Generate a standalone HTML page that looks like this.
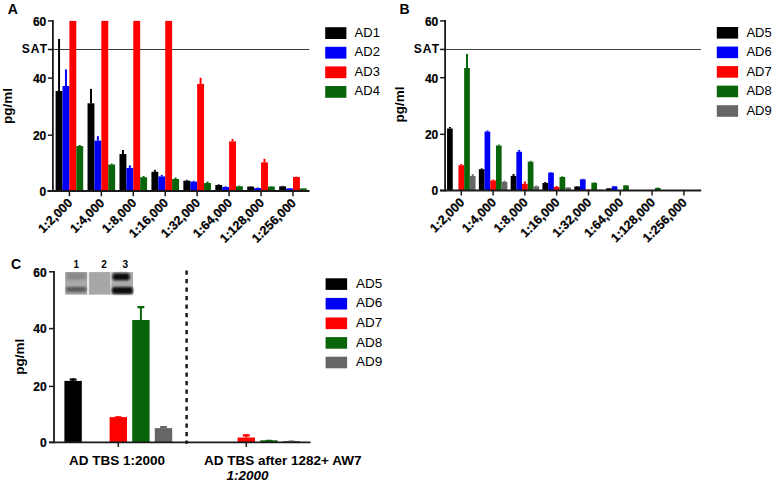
<!DOCTYPE html>
<html><head><meta charset="utf-8"><style>
html,body{margin:0;padding:0;background:#fff;}
body{width:778px;height:485px;overflow:hidden;}
svg{display:block;font-family:"Liberation Sans",sans-serif;}
</style></head><body>
<svg width="778" height="485" viewBox="0 0 778 485">
<rect x="0" y="0" width="778" height="485" fill="#fff"/>
<text x="7.80" y="14.40" font-size="14" font-weight="bold" text-anchor="start"  style="">A</text>
<line x1="48.50" y1="49.50" x2="309.30" y2="49.50" stroke="#3a3a3a" stroke-width="1.1" />
<rect x="55.60" y="91.00" width="6.90" height="100.00" fill="#000000"/>
<line x1="59.05" y1="91.00" x2="59.05" y2="38.90" stroke="#000000" stroke-width="2.0" />
<rect x="62.50" y="86.00" width="6.90" height="105.00" fill="#0000f8"/>
<line x1="65.95" y1="86.00" x2="65.95" y2="69.40" stroke="#0000f8" stroke-width="2.0" />
<rect x="69.40" y="20.90" width="6.90" height="170.10" fill="#ff0000"/>
<rect x="76.30" y="146.00" width="6.90" height="45.00" fill="#0a650a"/>
<line x1="79.75" y1="146.00" x2="79.75" y2="145.00" stroke="#0a650a" stroke-width="2.0" />
<rect x="87.54" y="103.30" width="6.90" height="87.70" fill="#000000"/>
<line x1="90.99" y1="103.30" x2="90.99" y2="88.90" stroke="#000000" stroke-width="2.0" />
<rect x="94.44" y="140.60" width="6.90" height="50.40" fill="#0000f8"/>
<line x1="97.89" y1="140.60" x2="97.89" y2="136.20" stroke="#0000f8" stroke-width="2.0" />
<rect x="101.34" y="20.90" width="6.90" height="170.10" fill="#ff0000"/>
<rect x="108.24" y="164.50" width="6.90" height="26.50" fill="#0a650a"/>
<line x1="111.69" y1="164.50" x2="111.69" y2="163.50" stroke="#0a650a" stroke-width="2.0" />
<rect x="119.48" y="154.00" width="6.90" height="37.00" fill="#000000"/>
<line x1="122.93" y1="154.00" x2="122.93" y2="150.00" stroke="#000000" stroke-width="2.0" />
<rect x="126.38" y="167.90" width="6.90" height="23.10" fill="#0000f8"/>
<line x1="129.83" y1="167.90" x2="129.83" y2="165.30" stroke="#0000f8" stroke-width="2.0" />
<rect x="133.28" y="20.90" width="6.90" height="170.10" fill="#ff0000"/>
<rect x="140.18" y="177.20" width="6.90" height="13.80" fill="#0a650a"/>
<line x1="143.63" y1="177.20" x2="143.63" y2="176.00" stroke="#0a650a" stroke-width="2.0" />
<rect x="151.42" y="171.80" width="6.90" height="19.20" fill="#000000"/>
<line x1="154.87" y1="171.80" x2="154.87" y2="169.80" stroke="#000000" stroke-width="2.0" />
<rect x="158.32" y="176.40" width="6.90" height="14.60" fill="#0000f8"/>
<line x1="161.77" y1="176.40" x2="161.77" y2="174.90" stroke="#0000f8" stroke-width="2.0" />
<rect x="165.22" y="20.90" width="6.90" height="170.10" fill="#ff0000"/>
<rect x="172.12" y="179.00" width="6.90" height="12.00" fill="#0a650a"/>
<line x1="175.57" y1="179.00" x2="175.57" y2="177.50" stroke="#0a650a" stroke-width="2.0" />
<rect x="183.36" y="180.70" width="6.90" height="10.30" fill="#000000"/>
<line x1="186.81" y1="180.70" x2="186.81" y2="179.80" stroke="#000000" stroke-width="2.0" />
<rect x="190.26" y="181.60" width="6.90" height="9.40" fill="#0000f8"/>
<line x1="193.71" y1="181.60" x2="193.71" y2="180.70" stroke="#0000f8" stroke-width="2.0" />
<rect x="197.16" y="83.90" width="6.90" height="107.10" fill="#ff0000"/>
<line x1="200.61" y1="83.90" x2="200.61" y2="77.80" stroke="#ff0000" stroke-width="2.0" />
<rect x="204.06" y="183.00" width="6.90" height="8.00" fill="#0a650a"/>
<line x1="207.51" y1="183.00" x2="207.51" y2="181.60" stroke="#0a650a" stroke-width="2.0" />
<rect x="215.30" y="185.00" width="6.90" height="6.00" fill="#000000"/>
<line x1="218.75" y1="185.00" x2="218.75" y2="184.30" stroke="#000000" stroke-width="2.0" />
<rect x="222.20" y="187.00" width="6.90" height="4.00" fill="#0000f8"/>
<line x1="225.65" y1="187.00" x2="225.65" y2="186.30" stroke="#0000f8" stroke-width="2.0" />
<rect x="229.10" y="141.40" width="6.90" height="49.60" fill="#ff0000"/>
<line x1="232.55" y1="141.40" x2="232.55" y2="139.10" stroke="#ff0000" stroke-width="2.0" />
<rect x="236.00" y="186.30" width="6.90" height="4.70" fill="#0a650a"/>
<line x1="239.45" y1="186.30" x2="239.45" y2="185.50" stroke="#0a650a" stroke-width="2.0" />
<rect x="247.24" y="186.60" width="6.90" height="4.40" fill="#000000"/>
<line x1="250.69" y1="186.60" x2="250.69" y2="186.00" stroke="#000000" stroke-width="2.0" />
<rect x="254.14" y="188.10" width="6.90" height="2.90" fill="#0000f8"/>
<line x1="257.59" y1="188.10" x2="257.59" y2="187.50" stroke="#0000f8" stroke-width="2.0" />
<rect x="261.04" y="162.40" width="6.90" height="28.60" fill="#ff0000"/>
<line x1="264.49" y1="162.40" x2="264.49" y2="158.80" stroke="#ff0000" stroke-width="2.0" />
<rect x="267.94" y="186.60" width="6.90" height="4.40" fill="#0a650a"/>
<line x1="271.39" y1="186.60" x2="271.39" y2="186.00" stroke="#0a650a" stroke-width="2.0" />
<rect x="279.18" y="186.30" width="6.90" height="4.70" fill="#000000"/>
<line x1="282.63" y1="186.30" x2="282.63" y2="185.80" stroke="#000000" stroke-width="2.0" />
<rect x="286.08" y="188.40" width="6.90" height="2.60" fill="#0000f8"/>
<line x1="289.53" y1="188.40" x2="289.53" y2="188.00" stroke="#0000f8" stroke-width="2.0" />
<rect x="292.98" y="177.00" width="6.90" height="14.00" fill="#ff0000"/>
<line x1="296.43" y1="177.00" x2="296.43" y2="176.60" stroke="#ff0000" stroke-width="2.0" />
<rect x="299.88" y="188.40" width="6.90" height="2.60" fill="#0a650a"/>
<line x1="303.33" y1="188.40" x2="303.33" y2="188.00" stroke="#0a650a" stroke-width="2.0" />
<line x1="52.90" y1="20.10" x2="52.90" y2="191.90" stroke="#1a1a1a" stroke-width="1.8" />
<line x1="47.90" y1="20.90" x2="52.90" y2="20.90" stroke="#1a1a1a" stroke-width="1.5" />
<line x1="47.90" y1="49.50" x2="52.90" y2="49.50" stroke="#1a1a1a" stroke-width="1.5" />
<line x1="47.90" y1="78.10" x2="52.90" y2="78.10" stroke="#1a1a1a" stroke-width="1.5" />
<line x1="47.90" y1="135.20" x2="52.90" y2="135.20" stroke="#1a1a1a" stroke-width="1.5" />
<line x1="47.90" y1="191.00" x2="52.90" y2="191.00" stroke="#1a1a1a" stroke-width="1.5" />
<line x1="47.50" y1="191.00" x2="309.50" y2="191.00" stroke="#1a1a1a" stroke-width="1.8" />
<line x1="69.40" y1="191.00" x2="69.40" y2="196.30" stroke="#1a1a1a" stroke-width="1.5" />
<line x1="101.34" y1="191.00" x2="101.34" y2="196.30" stroke="#1a1a1a" stroke-width="1.5" />
<line x1="133.28" y1="191.00" x2="133.28" y2="196.30" stroke="#1a1a1a" stroke-width="1.5" />
<line x1="165.22" y1="191.00" x2="165.22" y2="196.30" stroke="#1a1a1a" stroke-width="1.5" />
<line x1="197.16" y1="191.00" x2="197.16" y2="196.30" stroke="#1a1a1a" stroke-width="1.5" />
<line x1="229.10" y1="191.00" x2="229.10" y2="196.30" stroke="#1a1a1a" stroke-width="1.5" />
<line x1="261.04" y1="191.00" x2="261.04" y2="196.30" stroke="#1a1a1a" stroke-width="1.5" />
<line x1="292.98" y1="191.00" x2="292.98" y2="196.30" stroke="#1a1a1a" stroke-width="1.5" />
<text x="46.30" y="25.72" font-size="12" font-weight="bold" text-anchor="end" stroke="#000" stroke-width="0.2" style="">60</text>
<text x="48.20" y="53.02" font-size="12" font-weight="bold" text-anchor="end"  style="letter-spacing:1.1px">SAT</text>
<text x="46.30" y="82.92" font-size="12" font-weight="bold" text-anchor="end" stroke="#000" stroke-width="0.2" style="">40</text>
<text x="46.30" y="140.02" font-size="12" font-weight="bold" text-anchor="end" stroke="#000" stroke-width="0.2" style="">20</text>
<text x="46.30" y="195.82" font-size="12" font-weight="bold" text-anchor="end" stroke="#000" stroke-width="0.2" style="">0</text>
<text x="73.20" y="203.70" font-size="12.5" font-weight="bold" text-anchor="end" transform="rotate(-45 73.20 203.70)" stroke="#000" stroke-width="0.25" style="">1:2,000</text>
<text x="105.14" y="203.70" font-size="12.5" font-weight="bold" text-anchor="end" transform="rotate(-45 105.14 203.70)" stroke="#000" stroke-width="0.25" style="">1:4,000</text>
<text x="137.08" y="203.70" font-size="12.5" font-weight="bold" text-anchor="end" transform="rotate(-45 137.08 203.70)" stroke="#000" stroke-width="0.25" style="">1:8,000</text>
<text x="169.02" y="203.70" font-size="12.5" font-weight="bold" text-anchor="end" transform="rotate(-45 169.02 203.70)" stroke="#000" stroke-width="0.25" style="">1:16,000</text>
<text x="200.96" y="203.70" font-size="12.5" font-weight="bold" text-anchor="end" transform="rotate(-45 200.96 203.70)" stroke="#000" stroke-width="0.25" style="">1:32,000</text>
<text x="232.90" y="203.70" font-size="12.5" font-weight="bold" text-anchor="end" transform="rotate(-45 232.90 203.70)" stroke="#000" stroke-width="0.25" style="">1:64,000</text>
<text x="264.84" y="203.70" font-size="12.5" font-weight="bold" text-anchor="end" transform="rotate(-45 264.84 203.70)" stroke="#000" stroke-width="0.25" style="">1:128,000</text>
<text x="296.78" y="203.70" font-size="12.5" font-weight="bold" text-anchor="end" transform="rotate(-45 296.78 203.70)" stroke="#000" stroke-width="0.25" style="">1:256,000</text>
<text x="12.30" y="106.00" font-size="13.5" font-weight="bold" text-anchor="middle" transform="rotate(-90 12.3 106.0)" style="">pg/ml</text>
<rect x="325.20" y="27.20" width="21.20" height="11.80" fill="#000000"/>
<text x="354.60" y="36.60" font-size="13" font-weight="normal" text-anchor="start"  style="">AD1</text>
<rect x="325.20" y="46.80" width="21.20" height="11.80" fill="#0000f8"/>
<text x="354.60" y="56.20" font-size="13" font-weight="normal" text-anchor="start"  style="">AD2</text>
<rect x="325.20" y="66.40" width="21.20" height="11.80" fill="#ff0000"/>
<text x="354.60" y="75.80" font-size="13" font-weight="normal" text-anchor="start"  style="">AD3</text>
<rect x="325.20" y="86.00" width="21.20" height="11.80" fill="#0a650a"/>
<text x="354.60" y="95.40" font-size="13" font-weight="normal" text-anchor="start"  style="">AD4</text>
<text x="399.60" y="14.40" font-size="14" font-weight="bold" text-anchor="start"  style="">B</text>
<line x1="440.00" y1="49.50" x2="701.00" y2="49.50" stroke="#444444" stroke-width="1.0" />
<rect x="447.05" y="128.50" width="5.70" height="62.00" fill="#000000"/>
<line x1="449.90" y1="128.50" x2="449.90" y2="127.00" stroke="#000000" stroke-width="2.0" />
<rect x="458.45" y="165.20" width="5.70" height="25.30" fill="#ff0000"/>
<line x1="461.30" y1="165.20" x2="461.30" y2="164.00" stroke="#ff0000" stroke-width="2.0" />
<rect x="464.15" y="68.00" width="5.70" height="122.50" fill="#0a650a"/>
<line x1="467.00" y1="68.00" x2="467.00" y2="53.90" stroke="#0a650a" stroke-width="2.0" />
<rect x="469.85" y="176.00" width="5.70" height="14.50" fill="#666666"/>
<line x1="472.70" y1="176.00" x2="472.70" y2="174.20" stroke="#666666" stroke-width="2.0" />
<rect x="478.85" y="169.20" width="5.70" height="21.30" fill="#000000"/>
<line x1="481.70" y1="169.20" x2="481.70" y2="168.30" stroke="#000000" stroke-width="2.0" />
<rect x="484.55" y="131.60" width="5.70" height="58.90" fill="#0000f8"/>
<line x1="487.40" y1="131.60" x2="487.40" y2="130.50" stroke="#0000f8" stroke-width="2.0" />
<rect x="490.25" y="180.40" width="5.70" height="10.10" fill="#ff0000"/>
<line x1="493.10" y1="180.40" x2="493.10" y2="179.50" stroke="#ff0000" stroke-width="2.0" />
<rect x="495.95" y="145.50" width="5.70" height="45.00" fill="#0a650a"/>
<line x1="498.80" y1="145.50" x2="498.80" y2="144.50" stroke="#0a650a" stroke-width="2.0" />
<rect x="501.65" y="181.90" width="5.70" height="8.60" fill="#666666"/>
<line x1="504.50" y1="181.90" x2="504.50" y2="180.70" stroke="#666666" stroke-width="2.0" />
<rect x="510.65" y="175.90" width="5.70" height="14.60" fill="#000000"/>
<line x1="513.50" y1="175.90" x2="513.50" y2="174.00" stroke="#000000" stroke-width="2.0" />
<rect x="516.35" y="151.80" width="5.70" height="38.70" fill="#0000f8"/>
<line x1="519.20" y1="151.80" x2="519.20" y2="149.90" stroke="#0000f8" stroke-width="2.0" />
<rect x="522.05" y="183.90" width="5.70" height="6.60" fill="#ff0000"/>
<line x1="524.90" y1="183.90" x2="524.90" y2="181.50" stroke="#ff0000" stroke-width="2.0" />
<rect x="527.75" y="161.70" width="5.70" height="28.80" fill="#0a650a"/>
<line x1="530.60" y1="161.70" x2="530.60" y2="160.80" stroke="#0a650a" stroke-width="2.0" />
<rect x="533.45" y="186.40" width="5.70" height="4.10" fill="#666666"/>
<line x1="536.30" y1="186.40" x2="536.30" y2="185.50" stroke="#666666" stroke-width="2.0" />
<rect x="542.45" y="183.00" width="5.70" height="7.50" fill="#000000"/>
<line x1="545.30" y1="183.00" x2="545.30" y2="182.00" stroke="#000000" stroke-width="2.0" />
<rect x="548.15" y="172.60" width="5.70" height="17.90" fill="#0000f8"/>
<line x1="551.00" y1="172.60" x2="551.00" y2="172.00" stroke="#0000f8" stroke-width="2.0" />
<rect x="553.85" y="187.00" width="5.70" height="3.50" fill="#ff0000"/>
<line x1="556.70" y1="187.00" x2="556.70" y2="186.00" stroke="#ff0000" stroke-width="2.0" />
<rect x="559.55" y="177.00" width="5.70" height="13.50" fill="#0a650a"/>
<line x1="562.40" y1="177.00" x2="562.40" y2="176.30" stroke="#0a650a" stroke-width="2.0" />
<rect x="565.25" y="187.60" width="5.70" height="2.90" fill="#666666"/>
<line x1="568.10" y1="187.60" x2="568.10" y2="187.00" stroke="#666666" stroke-width="2.0" />
<rect x="574.25" y="186.50" width="5.70" height="4.00" fill="#000000"/>
<line x1="577.10" y1="186.50" x2="577.10" y2="186.00" stroke="#000000" stroke-width="2.0" />
<rect x="579.95" y="179.30" width="5.70" height="11.20" fill="#0000f8"/>
<line x1="582.80" y1="179.30" x2="582.80" y2="178.80" stroke="#0000f8" stroke-width="2.0" />
<rect x="585.65" y="189.60" width="5.70" height="0.90" fill="#ff0000"/>
<line x1="588.50" y1="189.60" x2="588.50" y2="189.00" stroke="#ff0000" stroke-width="2.0" />
<rect x="591.35" y="182.80" width="5.70" height="7.70" fill="#0a650a"/>
<line x1="594.20" y1="182.80" x2="594.20" y2="182.30" stroke="#0a650a" stroke-width="2.0" />
<rect x="597.05" y="189.80" width="5.70" height="0.70" fill="#666666"/>
<line x1="599.90" y1="189.80" x2="599.90" y2="189.50" stroke="#666666" stroke-width="2.0" />
<rect x="606.05" y="188.30" width="5.70" height="2.20" fill="#000000"/>
<line x1="608.90" y1="188.30" x2="608.90" y2="188.00" stroke="#000000" stroke-width="2.0" />
<rect x="611.75" y="186.30" width="5.70" height="4.20" fill="#0000f8"/>
<line x1="614.60" y1="186.30" x2="614.60" y2="186.00" stroke="#0000f8" stroke-width="2.0" />
<rect x="623.15" y="185.40" width="5.70" height="5.10" fill="#0a650a"/>
<line x1="626.00" y1="185.40" x2="626.00" y2="185.00" stroke="#0a650a" stroke-width="2.0" />
<rect x="654.95" y="188.00" width="5.70" height="2.50" fill="#0a650a"/>
<line x1="657.80" y1="188.00" x2="657.80" y2="187.50" stroke="#0a650a" stroke-width="2.0" />
<line x1="445.10" y1="20.10" x2="445.10" y2="191.40" stroke="#1a1a1a" stroke-width="1.8" />
<line x1="440.10" y1="20.90" x2="445.10" y2="20.90" stroke="#1a1a1a" stroke-width="1.5" />
<line x1="440.10" y1="49.40" x2="445.10" y2="49.40" stroke="#1a1a1a" stroke-width="1.5" />
<line x1="440.10" y1="77.70" x2="445.10" y2="77.70" stroke="#1a1a1a" stroke-width="1.5" />
<line x1="440.10" y1="134.30" x2="445.10" y2="134.30" stroke="#1a1a1a" stroke-width="1.5" />
<line x1="440.10" y1="190.50" x2="445.10" y2="190.50" stroke="#1a1a1a" stroke-width="1.5" />
<line x1="440.00" y1="190.50" x2="701.20" y2="190.50" stroke="#1a1a1a" stroke-width="1.8" />
<line x1="461.30" y1="190.50" x2="461.30" y2="195.50" stroke="#1a1a1a" stroke-width="1.5" />
<line x1="493.10" y1="190.50" x2="493.10" y2="195.50" stroke="#1a1a1a" stroke-width="1.5" />
<line x1="524.90" y1="190.50" x2="524.90" y2="195.50" stroke="#1a1a1a" stroke-width="1.5" />
<line x1="556.70" y1="190.50" x2="556.70" y2="195.50" stroke="#1a1a1a" stroke-width="1.5" />
<line x1="588.50" y1="190.50" x2="588.50" y2="195.50" stroke="#1a1a1a" stroke-width="1.5" />
<line x1="620.30" y1="190.50" x2="620.30" y2="195.50" stroke="#1a1a1a" stroke-width="1.5" />
<line x1="652.10" y1="190.50" x2="652.10" y2="195.50" stroke="#1a1a1a" stroke-width="1.5" />
<line x1="683.90" y1="190.50" x2="683.90" y2="195.50" stroke="#1a1a1a" stroke-width="1.5" />
<text x="438.30" y="25.72" font-size="12" font-weight="bold" text-anchor="end" stroke="#000" stroke-width="0.2" style="">60</text>
<text x="440.20" y="52.92" font-size="12" font-weight="bold" text-anchor="end"  style="letter-spacing:1.1px">SAT</text>
<text x="438.30" y="82.52" font-size="12" font-weight="bold" text-anchor="end" stroke="#000" stroke-width="0.2" style="">40</text>
<text x="438.30" y="139.12" font-size="12" font-weight="bold" text-anchor="end" stroke="#000" stroke-width="0.2" style="">20</text>
<text x="438.30" y="195.32" font-size="12" font-weight="bold" text-anchor="end" stroke="#000" stroke-width="0.2" style="">0</text>
<text x="465.10" y="203.20" font-size="12.5" font-weight="bold" text-anchor="end" transform="rotate(-45 465.10 203.20)" stroke="#000" stroke-width="0.25" style="">1:2,000</text>
<text x="496.90" y="203.20" font-size="12.5" font-weight="bold" text-anchor="end" transform="rotate(-45 496.90 203.20)" stroke="#000" stroke-width="0.25" style="">1:4,000</text>
<text x="528.70" y="203.20" font-size="12.5" font-weight="bold" text-anchor="end" transform="rotate(-45 528.70 203.20)" stroke="#000" stroke-width="0.25" style="">1:8,000</text>
<text x="560.50" y="203.20" font-size="12.5" font-weight="bold" text-anchor="end" transform="rotate(-45 560.50 203.20)" stroke="#000" stroke-width="0.25" style="">1:16,000</text>
<text x="592.30" y="203.20" font-size="12.5" font-weight="bold" text-anchor="end" transform="rotate(-45 592.30 203.20)" stroke="#000" stroke-width="0.25" style="">1:32,000</text>
<text x="624.10" y="203.20" font-size="12.5" font-weight="bold" text-anchor="end" transform="rotate(-45 624.10 203.20)" stroke="#000" stroke-width="0.25" style="">1:64,000</text>
<text x="655.90" y="203.20" font-size="12.5" font-weight="bold" text-anchor="end" transform="rotate(-45 655.90 203.20)" stroke="#000" stroke-width="0.25" style="">1:128,000</text>
<text x="687.70" y="203.20" font-size="12.5" font-weight="bold" text-anchor="end" transform="rotate(-45 687.70 203.20)" stroke="#000" stroke-width="0.25" style="">1:256,000</text>
<text x="404.00" y="104.50" font-size="13.5" font-weight="bold" text-anchor="middle" transform="rotate(-90 404.0 104.5)" style="">pg/ml</text>
<rect x="716.80" y="27.00" width="21.30" height="11.60" fill="#000000"/>
<text x="746.40" y="36.50" font-size="13" font-weight="normal" text-anchor="start"  style="">AD5</text>
<rect x="716.80" y="46.55" width="21.30" height="11.60" fill="#0000f8"/>
<text x="746.40" y="56.05" font-size="13" font-weight="normal" text-anchor="start"  style="">AD6</text>
<rect x="716.80" y="66.10" width="21.30" height="11.60" fill="#ff0000"/>
<text x="746.40" y="75.60" font-size="13" font-weight="normal" text-anchor="start"  style="">AD7</text>
<rect x="716.80" y="85.65" width="21.30" height="11.60" fill="#0a650a"/>
<text x="746.40" y="95.15" font-size="13" font-weight="normal" text-anchor="start"  style="">AD8</text>
<rect x="716.80" y="105.20" width="21.30" height="11.60" fill="#666666"/>
<text x="746.40" y="114.70" font-size="13" font-weight="normal" text-anchor="start"  style="">AD9</text>
<text x="11.00" y="268.60" font-size="14" font-weight="bold" text-anchor="start"  style="">C</text>
<defs><filter id="bl" x="-20%" y="-50%" width="140%" height="200%"><feGaussianBlur stdDeviation="0.7"/></filter><filter id="bl3" x="-20%" y="-50%" width="140%" height="200%"><feGaussianBlur stdDeviation="0.85"/></filter><filter id="bl2" x="-20%" y="-80%" width="140%" height="260%"><feGaussianBlur stdDeviation="1.1"/></filter><linearGradient id="l1" x1="0" y1="0" x2="0" y2="1"><stop offset="0" stop-color="#959595"/><stop offset="0.3" stop-color="#a0a0a0"/><stop offset="0.55" stop-color="#adadad"/><stop offset="0.75" stop-color="#9a9a9a"/><stop offset="1" stop-color="#a0a0a0"/></linearGradient></defs>
<rect x="65.20" y="272.10" width="22.00" height="22.50" fill="url(#l1)"/>
<rect x="87.20" y="272.10" width="1.90" height="22.50" fill="#ececec"/>
<rect x="89.10" y="272.10" width="21.20" height="22.50" fill="#a7a7a7"/>
<rect x="110.30" y="272.10" width="1.40" height="22.50" fill="#c4c4c4"/>
<rect x="111.70" y="272.10" width="21.40" height="22.50" fill="#ababab"/>
<rect x="67.0" y="273.6" width="18.5" height="5.6" rx="2.5" fill="#888888" filter="url(#bl2)"/>
<rect x="66.2" y="286.9" width="20.2" height="4.9" rx="2.4" fill="#5a5a5a" filter="url(#bl2)"/>
<rect x="112.5" y="273.3" width="17.3" height="7.0" rx="3.4" fill="#0a0a0a" filter="url(#bl3)"/>
<rect x="111.8" y="287.1" width="21.2" height="7.0" rx="3.3" fill="#080808" filter="url(#bl3)"/>
<text x="73.60" y="267.60" font-size="10" font-weight="bold" text-anchor="start"  style="">1</text>
<text x="104.00" y="267.60" font-size="10" font-weight="bold" text-anchor="middle"  style="">2</text>
<text x="125.30" y="267.60" font-size="10" font-weight="bold" text-anchor="middle"  style="">3</text>
<rect x="64.40" y="380.90" width="17.40" height="61.50" fill="#000000"/>
<line x1="73.10" y1="380.90" x2="73.10" y2="378.40" stroke="#000000" stroke-width="2.0" />
<line x1="69.70" y1="379.55" x2="76.50" y2="379.55" stroke="#000000" stroke-width="2.3" />
<rect x="109.60" y="417.10" width="17.40" height="25.30" fill="#ff0000"/>
<line x1="118.30" y1="417.10" x2="118.30" y2="416.30" stroke="#ff0000" stroke-width="2.0" />
<line x1="114.90" y1="417.45" x2="121.70" y2="417.45" stroke="#ff0000" stroke-width="2.3" />
<rect x="132.20" y="320.00" width="17.40" height="122.40" fill="#0a650a"/>
<line x1="140.90" y1="320.00" x2="140.90" y2="306.00" stroke="#0a650a" stroke-width="2.0" />
<line x1="137.50" y1="307.15" x2="144.30" y2="307.15" stroke="#0a650a" stroke-width="2.3" />
<rect x="154.80" y="428.10" width="17.40" height="14.30" fill="#666666"/>
<line x1="163.50" y1="428.10" x2="163.50" y2="426.00" stroke="#666666" stroke-width="2.0" />
<line x1="160.10" y1="427.15" x2="166.90" y2="427.15" stroke="#666666" stroke-width="2.3" />
<rect x="237.60" y="437.50" width="17.40" height="4.90" fill="#ff0000"/>
<line x1="246.30" y1="437.50" x2="246.30" y2="434.20" stroke="#ff0000" stroke-width="2.0" />
<line x1="242.90" y1="435.35" x2="249.70" y2="435.35" stroke="#ff0000" stroke-width="2.3" />
<rect x="260.20" y="440.30" width="17.40" height="2.10" fill="#0a650a"/>
<line x1="268.90" y1="440.30" x2="268.90" y2="439.80" stroke="#0a650a" stroke-width="2.0" />
<line x1="265.50" y1="440.95" x2="272.30" y2="440.95" stroke="#0a650a" stroke-width="2.3" />
<rect x="282.80" y="441.00" width="17.40" height="1.40" fill="#666666"/>
<line x1="291.50" y1="441.00" x2="291.50" y2="440.60" stroke="#666666" stroke-width="2.0" />
<line x1="288.10" y1="441.75" x2="294.90" y2="441.75" stroke="#666666" stroke-width="2.3" />
<line x1="54.00" y1="271.00" x2="54.00" y2="443.30" stroke="#1a1a1a" stroke-width="1.8" />
<line x1="49.00" y1="271.80" x2="54.00" y2="271.80" stroke="#1a1a1a" stroke-width="1.5" />
<line x1="49.00" y1="328.60" x2="54.00" y2="328.60" stroke="#1a1a1a" stroke-width="1.5" />
<line x1="49.00" y1="386.40" x2="54.00" y2="386.40" stroke="#1a1a1a" stroke-width="1.5" />
<line x1="49.00" y1="442.40" x2="54.00" y2="442.40" stroke="#1a1a1a" stroke-width="1.5" />
<line x1="49.00" y1="442.40" x2="310.50" y2="442.40" stroke="#1a1a1a" stroke-width="1.8" />
<line x1="118.30" y1="442.40" x2="118.30" y2="446.90" stroke="#1a1a1a" stroke-width="1.5" />
<line x1="246.30" y1="442.40" x2="246.30" y2="446.90" stroke="#1a1a1a" stroke-width="1.5" />
<text x="46.60" y="276.62" font-size="12" font-weight="bold" text-anchor="end" stroke="#000" stroke-width="0.2" style="">60</text>
<text x="46.60" y="333.42" font-size="12" font-weight="bold" text-anchor="end" stroke="#000" stroke-width="0.2" style="">40</text>
<text x="46.60" y="391.22" font-size="12" font-weight="bold" text-anchor="end" stroke="#000" stroke-width="0.2" style="">20</text>
<text x="46.60" y="447.22" font-size="12" font-weight="bold" text-anchor="end" stroke="#000" stroke-width="0.2" style="">0</text>
<line x1="186.60" y1="270.40" x2="186.60" y2="443.80" stroke="#111111" stroke-width="2.4" stroke-dasharray="4.3 4.2"/>
<text x="24.40" y="356.80" font-size="13.5" font-weight="bold" text-anchor="middle" transform="rotate(-90 24.4 356.8)" style="">pg/ml</text>
<text x="117.00" y="465.00" font-size="13.5" font-weight="bold" text-anchor="middle"  style="">AD TBS 1:2000</text>
<text x="282.70" y="465.00" font-size="13.5" font-weight="bold" text-anchor="middle"  style="">AD TBS after 1282+ AW7</text>
<text x="247.40" y="480.40" font-size="13.5" font-weight="bold" text-anchor="middle"  style="font-style:italic">1:2000</text>
<rect x="325.60" y="278.30" width="21.50" height="11.60" fill="#000000"/>
<text x="355.90" y="287.70" font-size="13.5" font-weight="normal" text-anchor="start"  style="">AD5</text>
<rect x="325.60" y="297.90" width="21.50" height="11.60" fill="#0000f8"/>
<text x="355.90" y="307.30" font-size="13.5" font-weight="normal" text-anchor="start"  style="">AD6</text>
<rect x="325.60" y="317.50" width="21.50" height="11.60" fill="#ff0000"/>
<text x="355.90" y="326.90" font-size="13.5" font-weight="normal" text-anchor="start"  style="">AD7</text>
<rect x="325.60" y="337.10" width="21.50" height="11.60" fill="#0a650a"/>
<text x="355.90" y="346.50" font-size="13.5" font-weight="normal" text-anchor="start"  style="">AD8</text>
<rect x="325.60" y="356.70" width="21.50" height="11.60" fill="#666666"/>
<text x="355.90" y="366.10" font-size="13.5" font-weight="normal" text-anchor="start"  style="">AD9</text>
</svg>
</body></html>
